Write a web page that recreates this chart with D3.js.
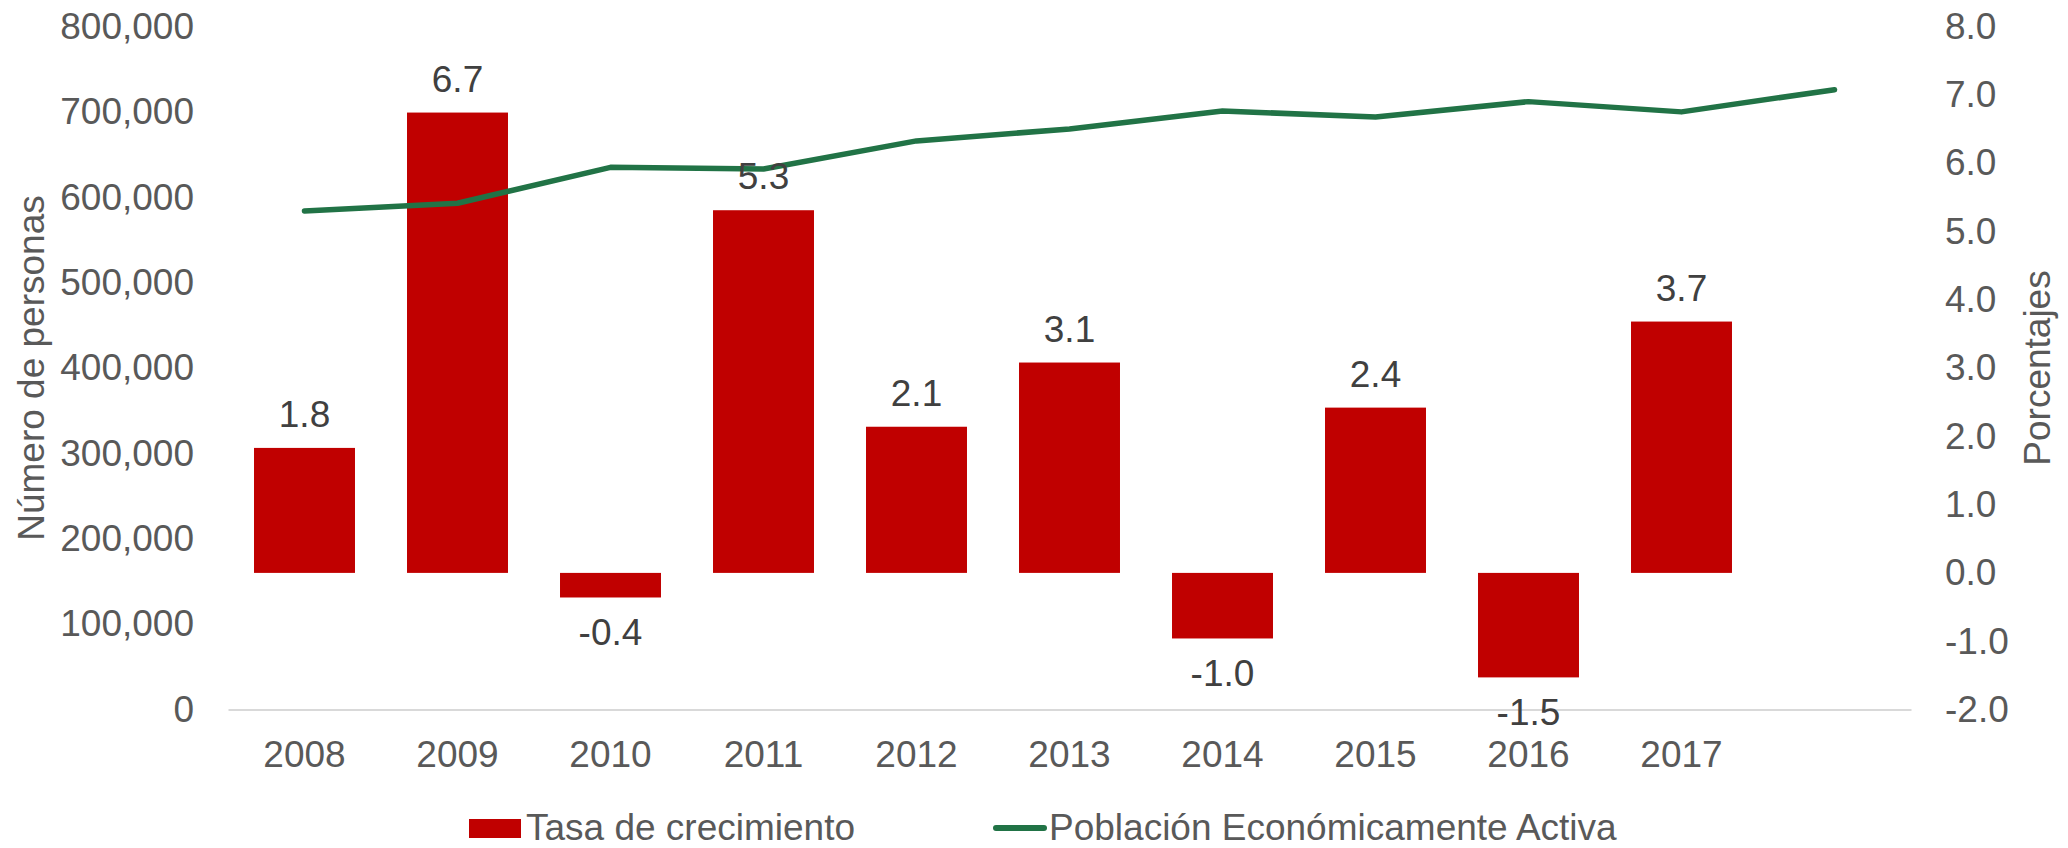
<!DOCTYPE html>
<html>
<head>
<meta charset="utf-8">
<script src="https://cdn.jsdelivr.net/npm/d3@7"></script>
<style>
  html, body { margin: 0; padding: 0; background: #fff; }
  svg text { font-family: "Liberation Sans", Arial, sans-serif; }
</style>
</head>
<body>
<div id="chart"></div>
<script>
// categories (the last slot has no label but carries a line point)
var years = ["2008", "2009", "2010", "2011", "2012", "2013", "2014", "2015", "2016", "2017", ""];
// Tasa de crecimiento (%), right axis
var growth = [1.83, 6.74, -0.36, 5.31, 2.14, 3.08, -0.96, 2.42, -1.53, 3.68];
// Población Económicamente Activa (personas), left axis
var pea = [584000, 593000, 635000, 633000, 666000, 680000, 701000, 694000, 712000, 700000, 726000];

var leftTicks = [0, 100000, 200000, 300000, 400000, 500000, 600000, 700000, 800000];
var rightTicks = [-2, -1, 0, 1, 2, 3, 4, 5, 6, 7, 8];

var W = 2068, H = 848;
var x0 = 228, x1 = 1911, yTop = 26.5, yBot = 709.5;
var textGrey = "#595959", labelGrey = "#404040";

var svg = d3.select("#chart").append("svg")
	.attr("width", W)
	.attr("height", H);

var x = d3.scaleBand()
	.domain(d3.range(years.length))
	.range([x0, x1])
	.paddingInner(0.34)
	.paddingOuter(0.17);

var yL = d3.scaleLinear().domain([0, 800000]).range([yBot, yTop]);
var yR = d3.scaleLinear().domain([-2, 8]).range([yBot, yTop]);

/*Left axis*/
var axL = svg.append("g")
	.attr("transform", "translate(" + (x0 - 34) + ",0)")
	.call(d3.axisLeft(yL).tickValues(leftTicks).tickSize(0).tickPadding(0)
		.tickFormat(d3.format(",")));
axL.select(".domain").remove();
axL.selectAll("text")
	.attr("fill", textGrey)
	.style("font-size", "37px");

/*Right axis - plain hyphen for negatives, as in the source*/
var axR = svg.append("g")
	.attr("transform", "translate(1945,0)")
	.call(d3.axisRight(yR).tickValues(rightTicks).tickSize(0).tickPadding(0)
		.tickFormat(function(d) { return d.toFixed(1); }));
axR.select(".domain").remove();
axR.selectAll("text")
	.attr("fill", textGrey)
	.style("font-size", "37px");

/*Bottom axis*/
var axB = svg.append("g")
	.attr("transform", "translate(0," + yBot + ")")
	.call(d3.axisBottom(x).tickSize(0).tickPadding(0)
		.tickFormat(function(i) { return years[i]; }));
axB.select(".domain")
	.attr("stroke", "#d9d9d9")
	.attr("stroke-width", 2);
axB.selectAll("text")
	.attr("fill", textGrey)
	.attr("dy", null)
	.attr("y", 57)
	.style("font-size", "37px");

/*Bars*/
svg.append("g").selectAll("rect")
	.data(growth)
	.join("rect")
	.attr("x", function(d, i) { return x(i); })
	.attr("width", x.bandwidth())
	.attr("y", function(d) { return Math.min(yR(d), yR(0)); })
	.attr("height", function(d) { return Math.abs(yR(d) - yR(0)); })
	.attr("fill", "#C00000");

/*Line*/
var line = d3.line()
	.x(function(d, i) { return x(i) + x.bandwidth() / 2; })
	.y(function(d) { return yL(d); });
svg.append("path")
	.datum(pea)
	.attr("d", line)
	.attr("fill", "none")
	.attr("stroke", "#217346")
	.attr("stroke-width", 5.5)
	.attr("stroke-linecap", "round")
	.attr("stroke-linejoin", "round");

/*Data labels*/
svg.append("g").selectAll("text")
	.data(growth)
	.join("text")
	.attr("x", function(d, i) { return x(i) + x.bandwidth() / 2; })
	.attr("y", function(d) { return d >= 0 ? yR(d) - 21 : yR(d) + 48; })
	.attr("text-anchor", "middle")
	.attr("fill", labelGrey)
	.style("font-size", "37px")
	.text(function(d) { return d.toFixed(1); });

/*Axis titles*/
svg.append("text")
	.attr("transform", "translate(44,368) rotate(-90)")
	.attr("text-anchor", "middle")
	.attr("fill", textGrey)
	.style("font-size", "37px")
	.text("Número de personas");
svg.append("text")
	.attr("transform", "translate(2050,368) rotate(-90)")
	.attr("text-anchor", "middle")
	.attr("fill", textGrey)
	.style("font-size", "37px")
	.text("Porcentajes");

/*Legend*/
var leg = svg.append("g");
leg.append("rect")
	.attr("x", 469).attr("y", 819)
	.attr("width", 52).attr("height", 19)
	.attr("fill", "#C00000");
leg.append("text")
	.attr("x", 526).attr("y", 840)
	.attr("fill", textGrey)
	.style("font-size", "37px")
	.text("Tasa de crecimiento");
leg.append("line")
	.attr("x1", 996).attr("x2", 1044)
	.attr("y1", 828).attr("y2", 828)
	.attr("stroke", "#217346")
	.attr("stroke-width", 6)
	.attr("stroke-linecap", "round");
leg.append("text")
	.attr("x", 1049).attr("y", 840)
	.attr("fill", textGrey)
	.style("font-size", "37px")
	.text("Población Económicamente Activa");
</script>
</body>
</html>
